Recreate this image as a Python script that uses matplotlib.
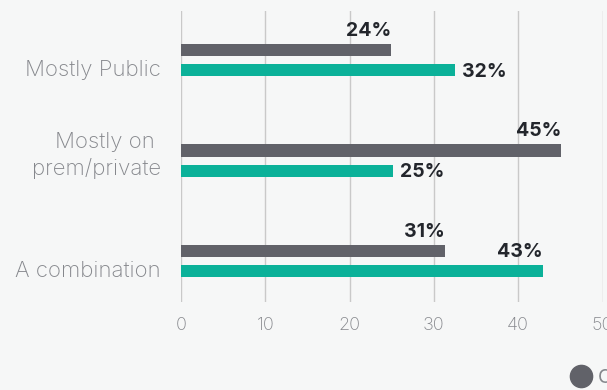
import matplotlib
matplotlib.use("Agg")
import matplotlib.pyplot as plt
from matplotlib.lines import Line2D

# Data
categories = ["Mostly Public", "Mostly on \nprem/private", "A combination"]
series_names = ["Current", "In 2 years"]
gray_values = [24.9, 45.1, 31.3]
teal_values = [32.5, 25.2, 42.9]
gray_labels = ["24%", "45%", "31%"]
teal_labels = ["32%", "25%", "43%"]
teal_label_side = ["right", "right", "top"]

BG = "#f6f7f7"
GRAY = "#616269"
TEAL = "#0bb199"
TEXT_DARK = "#23262c"
TEXT_LIGHT = "#85878c"

plt.rcParams["font.family"] = ["Inter", "DejaVu Sans"]

fig = plt.figure(figsize=(6.07, 3.90), dpi=100, facecolor=BG)
ax = fig.add_axes([181 / 607, 1 - 302 / 390, (602.5 - 181) / 607, (302 - 11) / 390])
ax.set_facecolor(BG)

ys = list(range(len(categories)))
bar_h = 0.12
off = 0.1
ax.barh([y - off for y in ys], gray_values, height=bar_h, color=GRAY, zorder=3)
ax.barh([y + off for y in ys], teal_values, height=bar_h, color=TEAL, zorder=3)

ax.set_xlim(0, 50)
ax.set_ylim(2.41, -0.49)
ax.set_xticks([0, 10, 20, 30, 40, 50])
ax.set_yticks([])
ax.grid(axis="x", color="#c9c9c9", linewidth=1, zorder=0)
for s in ax.spines.values():
    s.set_visible(False)
ax.tick_params(axis="x", length=0, pad=11, labelsize=13, labelcolor=TEXT_LIGHT)
for t in ax.get_xticklabels():
    t.set_fontweight("light")

# value labels
for y, v, lab in zip(ys, gray_values, gray_labels):
    ax.annotate(lab, (v, y - off - bar_h / 2), xytext=(0, 3), textcoords="offset points",
                ha="right", va="bottom", fontsize=14, fontweight="bold", color=TEXT_DARK)
for y, v, lab, side in zip(ys, teal_values, teal_labels, teal_label_side):
    if side == "right":
        ax.annotate(lab, (v, y + off), xytext=(5, -1), textcoords="offset points",
                    ha="left", va="center", fontsize=14, fontweight="bold", color=TEXT_DARK)
    else:
        ax.annotate(lab, (v, y + off - bar_h / 2), xytext=(0, 3), textcoords="offset points",
                    ha="right", va="bottom", fontsize=14, fontweight="bold", color=TEXT_DARK)

# category labels
for y, cat in zip(ys, categories):
    dy = 0.1 if "\n" not in cat else -0.05
    ax.text(-20 / 421.5, y + dy, cat, transform=ax.get_yaxis_transform(), ha="right",
            va="center", fontsize=16, fontweight="light", color=TEXT_LIGHT, linespacing=1.35)

# legend (mostly outside the canvas)
handles = [Line2D([], [], marker="o", linestyle="", markersize=16, color=c) for c in (GRAY, TEAL)]
fig.legend(handles, series_names, loc="center left", bbox_to_anchor=(569 / 607, 1 - 378 / 390),
           ncol=2, frameon=False, fontsize=14, labelcolor=TEXT_LIGHT, handlelength=1.2,
           handletextpad=0.3, borderpad=0, borderaxespad=0, columnspacing=1.5)

fig.savefig("out.png", dpi=100, facecolor=BG)
